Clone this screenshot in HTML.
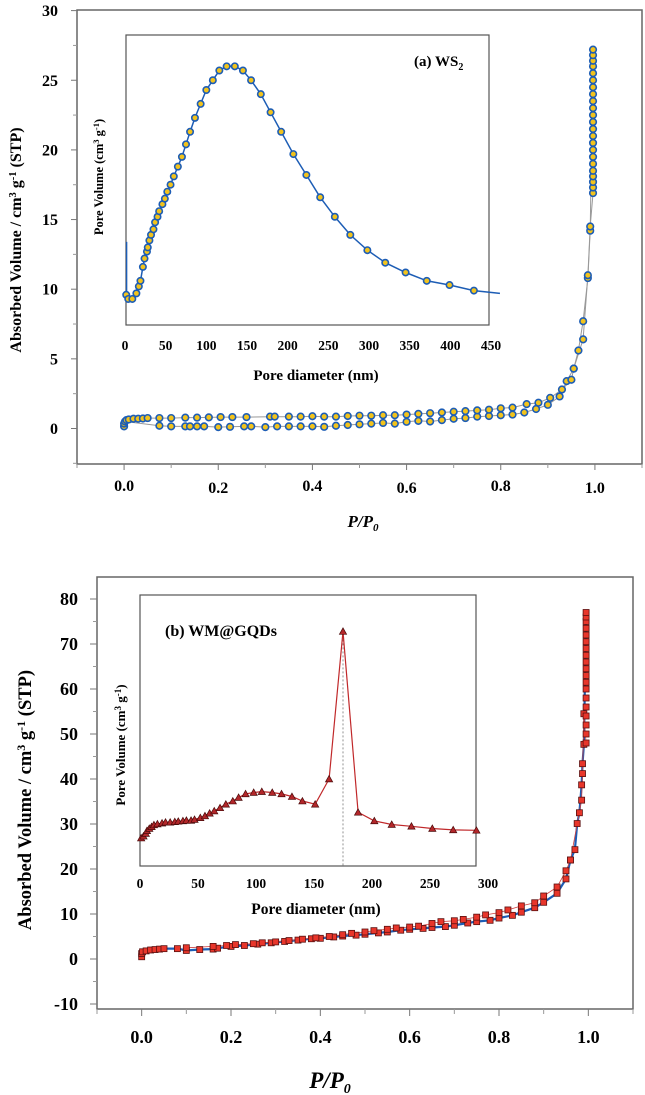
<!DOCTYPE html>
<html><head><meta charset="utf-8"><style>
html,body{margin:0;padding:0;background:#fff;}
svg{display:block;font-family:"Liberation Serif",serif;font-weight:bold;}
</style></head>
<body>
<svg id="chart" width="645" height="1095" viewBox="0 0 645 1095" xmlns="http://www.w3.org/2000/svg">
  <g id="pa">
    <rect x="77" y="10" width="565" height="454" fill="none" stroke="#666" stroke-width="1.5"/>
    <rect x="126" y="35" width="363" height="290" fill="none" stroke="#555" stroke-width="1.2"/>
    <text x="414" y="66" font-size="15">(a) WS<tspan font-size="10" dy="4">2</tspan></text>
    <text x="316" y="380" font-size="15" text-anchor="middle">Pore diameter (nm)</text>
    <text transform="translate(103,177) rotate(-90)" font-size="12.5" text-anchor="middle">Pore Volume (cm<tspan font-size="8.5" dy="-4">3</tspan><tspan dy="4"> g</tspan><tspan font-size="8.5" dy="-4">-1</tspan><tspan dy="4">)</tspan></text>
    <text transform="translate(21,240) rotate(-90)" font-size="16" text-anchor="middle">Absorbed Volume / cm<tspan font-size="10.5" dy="-5">3</tspan><tspan dy="5"> g</tspan><tspan font-size="10.5" dy="-5">-1</tspan><tspan dy="5"> (STP)</tspan></text>
    <text x="363" y="527" font-size="17" font-style="italic" text-anchor="middle">P/P<tspan font-size="11" dy="4">0</tspan></text>
  </g>
  <g id="pb">
    <rect x="97" y="577" width="536" height="432" fill="none" stroke="#666" stroke-width="1.5"/>
    <rect x="140" y="595" width="336" height="271" fill="none" stroke="#555" stroke-width="1.2"/>
    <text x="165" y="636" font-size="16">(b) WM@GQDs</text>
    <text x="316" y="914" font-size="15.5" text-anchor="middle">Pore diameter (nm)</text>
    <text transform="translate(125,745) rotate(-90)" font-size="13" text-anchor="middle">Pore Volume (cm<tspan font-size="9" dy="-4">3</tspan><tspan dy="4"> g</tspan><tspan font-size="9" dy="-4">-1</tspan><tspan dy="4">)</tspan></text>
    <text transform="translate(31,800) rotate(-90)" font-size="18.5" text-anchor="middle">Absorbed Volume / cm<tspan font-size="12" dy="-6">3</tspan><tspan dy="6"> g</tspan><tspan font-size="12" dy="-6">-1</tspan><tspan dy="6"> (STP)</tspan></text>
    <text x="330" y="1088" font-size="23" font-style="italic" text-anchor="middle">P/P<tspan font-size="14" dy="5">0</tspan></text>
  </g>
</svg>
<script>
// Panel (a) data
const aAdsX = [0.0,0.0,0.002,0.075,0.1,0.13,0.14,0.155,0.17,0.2,0.225,0.255,0.27,0.3,0.325,0.35,0.375,0.4,0.425,0.45,0.475,0.5,0.525,0.55,0.575,0.6,0.625,0.65,0.675,0.7,0.725,0.75,0.775,0.8,0.825,0.85,0.875,0.9,0.925,0.94,0.955,0.965,0.975,0.985,0.99];
const aAdsY = [0.15,0.35,0.5,0.2,0.15,0.15,0.15,0.15,0.15,0.1,0.12,0.15,0.15,0.1,0.15,0.15,0.15,0.15,0.12,0.2,0.25,0.3,0.35,0.4,0.35,0.48,0.55,0.5,0.6,0.7,0.75,0.85,0.9,0.95,1.0,1.15,1.4,1.7,2.3,3.4,4.3,5.6,7.7,10.8,14.2];
const aDesX = [0.005,0.01,0.02,0.03,0.04,0.05,0.075,0.1,0.13,0.155,0.18,0.205,0.23,0.26,0.31,0.32,0.35,0.375,0.4,0.425,0.45,0.475,0.5,0.525,0.55,0.575,0.6,0.625,0.65,0.675,0.7,0.725,0.75,0.775,0.8,0.825,0.855,0.88,0.905,0.93,0.95,0.955,0.975,0.985,0.99];
const aDesY = [0.6,0.65,0.7,0.7,0.72,0.75,0.75,0.75,0.78,0.78,0.8,0.82,0.82,0.82,0.85,0.85,0.85,0.85,0.88,0.85,0.85,0.9,0.92,0.92,0.95,0.95,1.0,1.05,1.1,1.15,1.2,1.25,1.3,1.35,1.45,1.5,1.75,1.85,2.2,2.8,3.5,4.3,6.4,11.0,14.5];
const aTopX = 0.996;
const aTopY = [16.9,17.3,17.7,18.1,18.5,19,19.5,20,20.5,21,21.5,22,22.5,23,23.5,24,24.5,25,25.5,26,26.4,26.8,27.2];
const aInD = [1.5,4,9,14,17,19,22,24,27,28,30,32,35,37,40,42,46,49,52,56,60,65,70,75,80,86,93,100,108,116,125,135,145,155,167,179,192,207,223,240,258,277,298,320,345,371,399,429];
const aInV = [9.6,9.3,9.3,9.7,10.2,10.6,11.6,12.2,12.7,13.0,13.5,13.9,14.3,14.8,15.2,15.6,16.1,16.5,17.0,17.5,18.1,18.8,19.5,20.4,21.3,22.3,23.3,24.3,25.0,25.7,26.0,26.0,25.7,25.0,24.0,22.7,21.3,19.7,18.2,16.6,15.2,13.9,12.8,11.9,11.2,10.6,10.3,9.9];
const aInTail = [461,9.7];
const aInSpike = [2,9.2,13.4];
const aYTicks = [0,5,10,15,20,25,30];
const aXTicks = [0.0,0.2,0.4,0.6,0.8,1.0];
const aXTickLabels = ["0.0","0.2","0.4","0.6","0.8","1.0"];
const aInXTicks = [0,50,100,150,200,250,300,350,400,450];

// Panel (b) data
const bAdsX = [0.0,0.0,0.002,0.01,0.02,0.03,0.04,0.05,0.08,0.1,0.13,0.16,0.17,0.2,0.23,0.26,0.29,0.32,0.35,0.38,0.4,0.43,0.45,0.48,0.5,0.53,0.55,0.58,0.6,0.63,0.65,0.68,0.7,0.73,0.75,0.78,0.8,0.83,0.85,0.88,0.9,0.93,0.95,0.96,0.97,0.975,0.98,0.985,0.987,0.99];
const bAdsY = [0.5,1.2,1.6,1.8,2.0,2.1,2.2,2.3,2.3,1.9,2.1,2.2,2.4,2.8,3.0,3.3,3.6,3.9,4.2,4.5,4.6,4.9,5.1,5.3,5.5,5.8,6.0,6.4,6.6,6.8,7.0,7.2,7.5,8.0,8.3,8.6,9.1,9.7,10.4,11.4,12.6,14.6,17.8,22.0,24.3,30.1,32.5,38.7,43.4,47.7];
const bDesX = [0.1,0.16,0.19,0.21,0.25,0.27,0.3,0.33,0.36,0.39,0.42,0.45,0.47,0.5,0.52,0.55,0.57,0.6,0.62,0.65,0.67,0.7,0.72,0.75,0.77,0.8,0.82,0.85,0.88,0.9,0.93,0.95,0.96,0.985,0.987,0.99];
const bDesY = [2.5,2.8,3.0,3.2,3.4,3.6,3.8,4.1,4.4,4.7,5.0,5.4,5.7,6.0,6.3,6.6,6.9,7.1,7.3,7.9,8.3,8.5,8.8,9.3,9.8,10.3,10.9,11.8,12.5,14.0,16.0,19.6,22.0,35.3,41.2,54.5];
const bTopX = 0.995;
const bTopY = [48,50,52,54,56,58,60,61.5,63,64.5,66,67.5,69,70.5,72,73.5,75,76,77];
const bInD = [1,3,5,6,8,10,12,15,19,22,26,30,33,37,40,44,47,52,56,60,64,69,74,80,85,91,98,105,114,122,131,140,151,163,175,188,202,217,234,252,270,290];
const bInV = [26.9,27.3,27.9,28.5,29.0,29.4,29.8,30.0,30.2,30.4,30.4,30.5,30.6,30.7,30.8,30.8,31.0,31.4,31.8,32.4,32.9,33.6,34.4,35.1,35.9,36.7,37.0,37.2,37.0,36.7,36.1,35.1,34.4,40.0,72.8,32.6,30.7,29.9,29.5,29.0,28.7,28.6];
const bPeakD = 175;
const bYTicks = [-10,0,10,20,30,40,50,60,70,80];
const bXTicks = [0.0,0.2,0.4,0.6,0.8,1.0];
const bXTickLabels = ["0.0","0.2","0.4","0.6","0.8","1.0"];
const bInXTicks = [0,50,100,150,200,250,300];

const NS = "http://www.w3.org/2000/svg";
function mk(parent, tag, attrs){ const e=document.createElementNS(NS,tag); for(const k in attrs) e.setAttribute(k,attrs[k]); parent.appendChild(e); return e; }
const ga = document.getElementById('pa'), gb = document.getElementById('pb');

// axis functions
const axX = v => 77 + (v + 0.1) / 1.2 * 565;
const ayY = v => 428.5 - v * 13.93;
const aiX = d => 125 + d * 366 / 450;
const aiY = v => ayY(v);
const bxX = v => 97 + (v + 0.1) / 1.2 * 536;
const byY = v => 959 - v * 4.5;
const biX = d => 140 + d * 1.16;
const biY = v => byY(v);

function pathOf(xs, ys, fx, fy){ return xs.map((x,i)=>(i?'L':'M')+fx(x).toFixed(1)+' '+fy(ys[i]).toFixed(1)).join(' '); }

// ---- Panel A axes
aYTicks.forEach((t,i)=>{
  const y=ayY(t);
  const tk=mk(ga,'line',{x1:71,x2:77,y1:y,y2:y,stroke:'#777','stroke-width':1});
  
  
  if(i<aYTicks.length-1){ const m=mk(ga,'line',{x1:73,x2:77,y1:ayY(t+2.5),y2:ayY(t+2.5),stroke:'#999','stroke-width':1});
      }
  const lb=mk(ga,'text',{x:58,y:y+5.5,'font-size':16,'text-anchor':'end'}); lb.textContent=String(t);
  
  
});
mk(ga,'line',{x1:73,x2:77,y1:ayY(-2.5),y2:ayY(-2.5),stroke:'#999'});
aXTicks.forEach((t,i)=>{
  const x=axX(t);
  const tk=mk(ga,'line',{x1:x,x2:x,y1:464,y2:470,stroke:'#777','stroke-width':1});
  
  
  const lb=mk(ga,'text',{x:x,y:491+(i%2?2:0),'font-size':16,'text-anchor':'middle'}); lb.textContent=aXTickLabels[i];
  
  
});
[-0.1,0.1,0.3,0.5,0.7,0.9,1.1].forEach(t=>mk(ga,'line',{x1:axX(t),x2:axX(t),y1:464,y2:468,stroke:'#999'}));
aInXTicks.forEach(t=>{
  const lb=mk(ga,'text',{x:aiX(t),y:350,'font-size':13.5,'text-anchor':'middle'}); lb.textContent=String(t);
  
  
});

// Panel A series
const la=mk(ga,'path',{d:pathOf(aAdsX,aAdsY,axX,ayY)+' L'+axX(aTopX)+' '+ayY(aTopY[aTopY.length-1]),fill:'none',stroke:'#999','stroke-width':1});
 
const ld=mk(ga,'path',{d:pathOf(aDesX,aDesY,axX,ayY)+' L'+axX(aTopX)+' '+ayY(aTopY[0]),fill:'none',stroke:'#999','stroke-width':1});
 
function circ(g,x,y,name,r){ const c=mk(g,'circle',{cx:x,cy:y,r:r,fill:'#f2c31c',stroke:'#1d5db5','stroke-width':1.6});
    }
aAdsX.forEach((x,i)=>circ(ga,axX(x),ayY(aAdsY[i]),'a-adsorption-point',3.3));
aDesX.forEach((x,i)=>circ(ga,axX(x),ayY(aDesY[i]),'a-desorption-point',3.3));
aTopY.forEach(v=>circ(ga,axX(aTopX),ayY(v),'a-saturation-point',3.3));

// Inset A
const il=mk(ga,'path',{d:pathOf(aInD,aInV,aiX,aiY)+' L'+aiX(aInTail[0])+' '+aiY(aInTail[1]),fill:'none',stroke:'#1d5db5','stroke-width':1.5});
 
const sp=mk(ga,'line',{x1:aiX(aInSpike[0]),x2:aiX(aInSpike[0]),y1:aiY(aInSpike[1]),y2:aiY(aInSpike[2]),stroke:'#1d5db5','stroke-width':1.4});
 
aInD.forEach((d,i)=>circ(ga,aiX(d),aiY(aInV[i]),'inset-a-point',3.2));

// ---- Panel B axes
bYTicks.forEach((t,i)=>{
  const y=byY(t);
  const tk=mk(gb,'line',{x1:90,x2:97,y1:y,y2:y,stroke:'#777','stroke-width':1});
  
  
  if(i<bYTicks.length-1){ const m=mk(gb,'line',{x1:93,x2:97,y1:byY(t+5),y2:byY(t+5),stroke:'#999'});
      }
  const lb=mk(gb,'text',{x:78,y:y+6,'font-size':18,'text-anchor':'end'}); lb.textContent=String(t);
  
  
});
bXTicks.forEach((t,i)=>{
  const x=bxX(t);
  const tk=mk(gb,'line',{x1:x,x2:x,y1:1009,y2:1016,stroke:'#777','stroke-width':1});
  
  
  const lb=mk(gb,'text',{x:x,y:1043,'font-size':18,'text-anchor':'middle'}); lb.textContent=bXTickLabels[i];
  
  
});
[-0.1,0.1,0.3,0.5,0.7,0.9,1.1].forEach(t=>mk(gb,'line',{x1:bxX(t),x2:bxX(t),y1:1009,y2:1014,stroke:'#999'}));
bInXTicks.forEach(t=>{
  const lb=mk(gb,'text',{x:biX(t),y:888,'font-size':13.5,'text-anchor':'middle'}); lb.textContent=String(t);
  
  
});

// Panel B series
const bla=mk(gb,'path',{d:pathOf(bAdsX,bAdsY,bxX,byY)+' L'+bxX(bTopX)+' '+byY(bTopY[bTopY.length-1]),fill:'none',stroke:'#1d5db5','stroke-width':2.2});
 
const bld=mk(gb,'path',{d:pathOf(bDesX,bDesY,bxX,byY)+' L'+bxX(bTopX)+' '+byY(bTopY[0]),fill:'none',stroke:'#d04040','stroke-width':0.8});
 
function sq(g,x,y,name){ const s=mk(g,'rect',{x:x-3,y:y-3,width:6,height:6,fill:'#e8362b',stroke:'#5a1010','stroke-width':0.8});
    }
bAdsX.forEach((x,i)=>sq(gb,bxX(x),byY(bAdsY[i]),'b-adsorption-point'));
bDesX.forEach((x,i)=>sq(gb,bxX(x),byY(bDesY[i]),'b-desorption-point'));
bTopY.forEach(v=>sq(gb,bxX(bTopX),byY(v),'b-saturation-point'));

// Inset B
const dl=mk(gb,'line',{x1:biX(bPeakD),x2:biX(bPeakD),y1:biY(72.8),y2:866,stroke:'#777','stroke-width':0.8,'stroke-dasharray':'2,2'});
 
const bil=mk(gb,'path',{d:pathOf(bInD,bInV,biX,biY),fill:'none',stroke:'#c0282a','stroke-width':1.2});
 
bInD.forEach((d,i)=>{ const x=biX(d), y=biY(bInV[i]);
  const t=mk(gb,'path',{d:`M${x-3.6} ${y+2.9} L${x+3.6} ${y+2.9} L${x} ${y-3.5} Z`,fill:'#b3272a',stroke:'#4a0a0a','stroke-width':0.7});
  
  
});
</script>
</body></html>
